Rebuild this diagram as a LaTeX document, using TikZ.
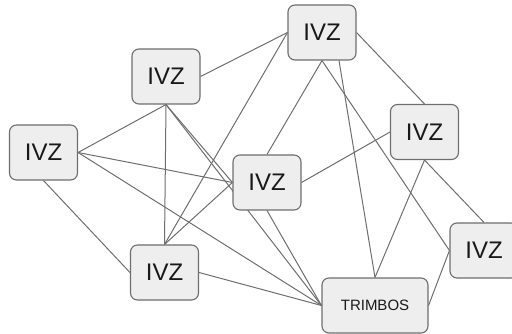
\documentclass[tikz,border=0pt]{standalone}
\usepackage{fontspec}
\setmainfont{Liberation Sans}
\usetikzlibrary{backgrounds}
\definecolor{boxfill}{HTML}{EEEEEE}
\definecolor{boxline}{HTML}{6E6E6E}
\definecolor{edgecol}{HTML}{6E6E6E}
\begin{document}
\begin{tikzpicture}[x=1pt,y=-1pt,
  ivzbox/.style={draw=boxline,fill=boxfill,line width=1.1pt,rounded corners=7pt,
    minimum width=68pt,minimum height=55pt,inner sep=0pt,font=\fontsize{24}{24}\selectfont,text=black!90},
  trimbox/.style={ivzbox,minimum width=106pt,font=\fontsize{15}{15}\selectfont},
  edge/.style={draw=edgecol,line width=1pt}]
\useasboundingbox (0,0) rectangle (512,334);
\node[ivzbox] (A) at (166,76.5) {IVZ};
\node[ivzbox] (B) at (43.5,152.5) {IVZ};
\node[ivzbox] (C) at (322,32.5) {IVZ};
\node[ivzbox] (D) at (424.5,132) {IVZ};
\node[ivzbox] (E) at (267,182.5) {IVZ};
\node[ivzbox] (F) at (164.5,272.5) {IVZ};
\node[ivzbox] (G) at (484,250.5) {IVZ};
\node[trimbox] (T) at (375,305.5) {TRIMBOS};
\begin{scope}[on background layer]
\draw[edge] (A.south) -- (B.east);
\draw[edge] (A.east) -- (C.west);
\draw[edge] (A.south) -- (E.west);
\draw[edge] (A.south) -- (F.north);
\draw[edge] (A.south) -- (T.west);
\draw[edge] (B.east) -- (E.west);
\draw[edge] (B.east) -- (T.west);
\draw[edge] (B.south) -- (F.west);
\draw[edge] (C.west) -- (F.north);
\draw[edge] (C.south) -- (E.north);
\draw[edge] ([xshift=17pt]C.south) -- (T.north);
\draw[edge] (C.south) -- (G.west);
\draw[edge] (C.east) -- (D.north);
\draw[edge] (D.west) -- (E.east);
\draw[edge] (D.south) -- (T.north);
\draw[edge] (D.south) -- (G.north);
\draw[edge] (F.north) -- (E.west);
\draw[edge] (E.south) -- (T.west);
\draw[edge] (F.east) -- (T.west);
\draw[edge] (G.west) -- (T.east);
\end{scope}
\end{tikzpicture}
\end{document}
